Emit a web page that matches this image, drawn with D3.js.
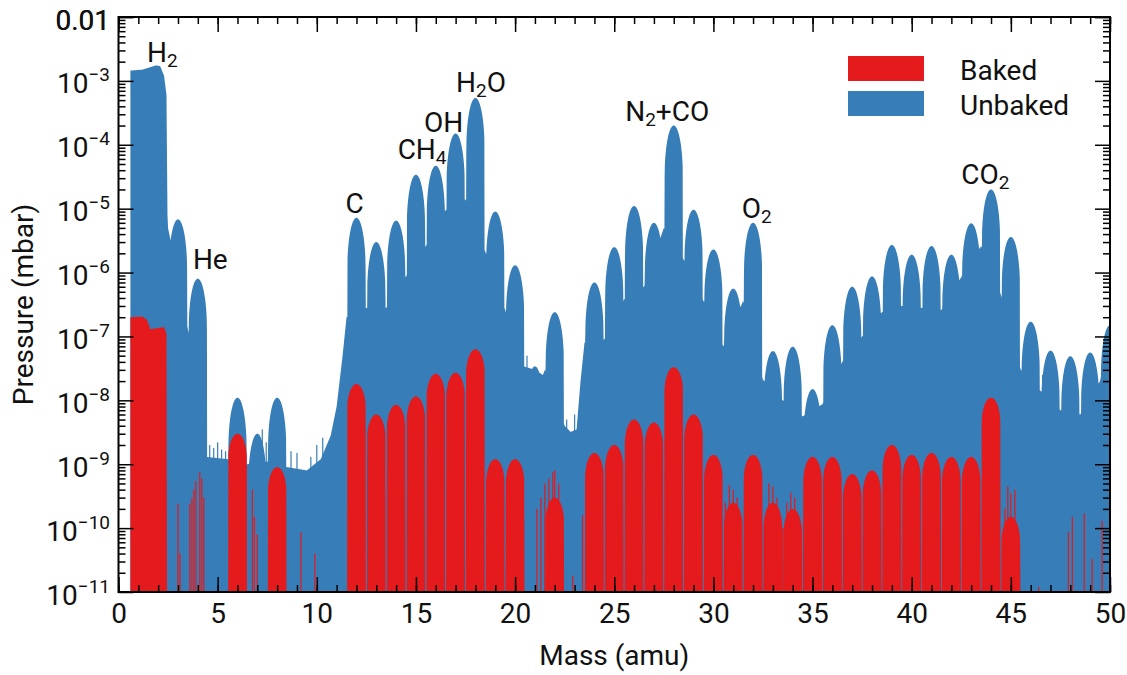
<!DOCTYPE html>
<html>
<head>
<meta charset="utf-8">
<script src="https://cdn.jsdelivr.net/npm/d3@7"></script>
<style>
  body { margin: 0; background: #fff; }
  text { font-family: Roboto, "Noto Sans", sans-serif; fill: #111; }
</style>
</head>
<body>
<svg id="chart" width="1127" height="675"></svg>
<script>
// ---- residual gas spectrum, 0–50 amu ----
// peak pressure (mbar) at each integer mass 1..50; 0 = no resolved peak
const masses = d3.range(1, 51);
const unbakedPeak = [
  0, 0, 6.8e-6, 8e-7, 0, 1.1e-8, 3e-9, 1.1e-8, 0, 0,
  0, 7.2e-6, 3.0e-6, 6.5e-6, 3.4e-5, 4.7e-5, 1.5e-4, 5.4e-4, 9e-6, 1.3e-6,
  3.4e-8, 2.4e-7, 0, 7e-7, 2.5e-6, 1.1e-5, 6e-6, 2.0e-4, 9.6e-6, 2.3e-6,
  5.6e-7, 6e-6, 5.9e-8, 6.9e-8, 1.5e-8, 1.5e-7, 6e-7, 8.7e-7, 2.7e-6, 1.9e-6,
  2.6e-6, 1.9e-6, 5.9e-6, 2.0e-5, 3.6e-6, 1.7e-7, 6e-8, 4.9e-8, 5.6e-8, 1.5e-7
];
const bakedPeak = [
  0, 0, 0, 0, 0, 3e-9, 0, 9e-10, 0, 0,
  0, 1.8e-8, 6e-9, 8.5e-9, 1.15e-8, 2.6e-8, 2.7e-8, 6.3e-8, 1.2e-9, 1.2e-9,
  0, 3e-10, 0, 1.5e-9, 2e-9, 5e-9, 4.5e-9, 3.3e-8, 6e-9, 1.4e-9,
  2.5e-10, 1.4e-9, 2.5e-10, 2e-10, 1.3e-9, 1.3e-9, 7e-10, 8e-10, 2e-9, 1.4e-9,
  1.5e-9, 1.3e-9, 1.3e-9, 1.1e-8, 1.5e-10, 0, 0, 0, 0, 0
];

// background level between peaks (mass, mbar); the merged H/H2 block is part of it
const unbakedBgMass = [0.6, 1.2, 1.9, 2.1, 2.3, 2.42, 2.47, 2.5, 3.5, 4.45, 5.5, 6.5, 7.5, 8.5, 9.5, 10.2, 10.7, 11.0, 11.3, 11.5,
  12.5, 13.5, 14.5, 15.5, 16.5, 17.5, 18.5, 19.5, 20.45, 21.0, 21.4, 21.5, 22.5, 22.8, 23.1, 23.3, 23.5,
  24.5, 25.5, 26.5, 27.5, 28.5, 29.5, 30.5, 31.5, 32.5, 33.5, 34.5, 35.5, 36.5, 37.5, 38.5, 39.5,
  40.5, 41.5, 42.5, 43.5, 44.5, 45.5, 46.5, 47.5, 48.5, 49.5, 50];
const unbakedBgValue = [1.45e-3, 1.5e-3, 1.75e-3, 1.7e-3, 1.2e-3, 6e-4, 8e-6, 5e-6, 1.3e-7, 1.3e-9, 1.2e-9, 1e-9, 1.1e-9, 9e-10, 8e-10, 1.2e-9, 2.8e-9, 8e-9, 5e-8, 2e-7,
  2.8e-7, 2.8e-7, 8.7e-7, 2.6e-6, 9.5e-6, 1.4e-5, 2.1e-6, 2.6e-7, 3.4e-8, 3e-8, 2.5e-8, 3e-8, 4e-9, 3.2e-9, 3.5e-9, 2e-8, 8e-8,
  9e-8, 3.8e-7, 6e-7, 5e-6, 1.6e-6, 3.6e-7, 7e-8, 3.6e-7, 2.1e-8, 1e-8, 5.6e-9, 8.7e-9, 4e-8, 1e-7, 2.4e-7, 3e-7,
  2.8e-7, 2.6e-7, 8.5e-7, 2.6e-6, 4.5e-7, 3e-8, 1.4e-8, 7e-9, 6e-9, 2e-8, 1.5e-7];
const bakedBgMass = [0.6, 1.2, 1.45, 1.6, 2.3, 2.42, 2.45, 50];
const bakedBgValue = [2e-7, 2.05e-7, 1.8e-7, 1.3e-7, 1.4e-7, 1.1e-7, 1e-12, 1e-12];

// isolated noise spikes (mass, mbar)
const bakedSpikeMass = [3.0, 3.1, 3.6, 3.7, 3.8, 3.9, 4.1, 4.2, 4.3, 6.75, 6.85, 7.0, 9.2, 9.9,
  21.1, 21.3, 21.5, 21.7, 21.9, 22.0, 22.2, 22.35, 22.9, 23.4,
  30.6, 30.8, 31.0, 31.2, 32.6, 32.8, 33.0, 33.2, 33.5, 33.7, 33.9, 34.1, 34.3,
  44.7, 44.85, 45.0, 45.2, 46.4, 47.9, 48.1, 48.7, 49.1, 49.6];
const bakedSpikeValue = [2.4e-10, 4e-11, 2.4e-10, 2.9e-10, 4e-10, 5.5e-10, 7.5e-10, 6e-10, 3e-10, 4e-10, 1.5e-10, 8e-11, 8.6e-11, 4e-11,
  2e-10, 3e-10, 5e-10, 6e-10, 7.5e-10, 8e-10, 5e-10, 2e-10, 1.8e-11, 1.6e-10,
  2.5e-10, 4.7e-10, 4e-10, 3e-10, 1.2e-10, 5e-10, 4.5e-10, 3e-10, 1e-10, 2.5e-10, 3.6e-10, 3e-10, 1.5e-10,
  2e-10, 4.5e-10, 3.5e-10, 4e-10, 1.2e-11, 8.6e-11, 1.5e-10, 1.7e-10, 3.3e-11, 1.3e-10];
const unbakedSpikeMass = [4.6, 4.8, 5.0, 5.2, 5.4, 7.25, 7.45, 8.7, 9.0, 9.7, 10.0, 10.3, 20.6, 22.6, 23.0, 45.7, 46.6];
const unbakedSpikeValue = [2e-9, 1.8e-9, 2.2e-9, 1.7e-9, 1.6e-9, 3.5e-9, 2.2e-9, 1.6e-9, 1.5e-9, 1.3e-9, 2e-9, 2.6e-9, 5e-8, 5e-9, 6e-9, 5e-8, 2.5e-8];

// species annotations: text (_n = subscript), mass, pressure at baseline
const annoText = ["H_2", "He", "C", "CH_4", "OH", "H_2O", "N_2+CO", "O_2", "CO_2"];
const annoMass = [2.21, 4.63, 11.91, 15.31, 16.39, 18.28, 27.67, 32.18, 43.71];
const annoP = [2.0e-3, 1.12e-6, 8.7e-6, 5.9e-5, 1.58e-4, 6.8e-4, 2.37e-4, 7.2e-6, 2.45e-5];

const seriesNames = ["Baked", "Unbaked"];
const xMajorTicks = d3.range(0, 51, 5);
const xMinorTicks = d3.range(0, 51, 1);
const yDecades = d3.range(-11, -1);

// ---- layout ----
const svg = d3.select("#chart");
const plotL = 118.5, plotR = 1110, plotT = 17, plotB = 592;
const x = d3.scaleLinear([0, 50], [plotL, plotR]);
const y = d3.scaleLog([1e-11, 1e-2], [plotB, plotT]);
const blue = "#377eb8", red = "#e41a1c";
const FLOOR = 1e-11;

// build a sampled trace: peak domes on top of the background level
function trace(peaks, bgM, bgV, halfWidth, drop) {
  const bgLog = d3.scaleLinear(bgM, bgV.map(v => Math.log10(v))).clamp(true);
  const pts = [];
  for (let i = 0; i <= 4940; i++) {
    const m = 0.6 + i * 0.01;
    let lv = bgLog(m);
    const k = Math.round(m);
    const P = peaks[k - 1];
    if (P > 0) {
      const u = Math.abs(m - k) / halfWidth;
      if (u < 1) lv = Math.max(lv, Math.log10(P) - drop * (1 - Math.sqrt(1 - u * u)));
    }
    pts.push([m, Math.max(Math.pow(10, lv), FLOOR)]);
  }
  return pts;
}

const unbaked = trace(unbakedPeak, unbakedBgMass, unbakedBgValue, 0.46, 0.8);
const baked = trace(bakedPeak, bakedBgMass, bakedBgValue, 0.47, 0.4);

svg.append("clipPath").attr("id", "plotClip")
  .append("rect").attr("x", plotL).attr("y", plotT).attr("width", plotR - plotL).attr("height", plotB - plotT);

const area = d3.area().x(d => x(d[0])).y0(y(FLOOR)).y1(d => y(d[1]));
const plot = svg.append("g").attr("clip-path", "url(#plotClip)");
function spikes(ms, vs, color) {
  plot.append("g").selectAll("rect").data(ms).join("rect")
    .attr("x", d => x(d) - 0.6).attr("width", 1.2)
    .attr("y", (d, i) => y(vs[i]))
    .attr("height", (d, i) => y(FLOOR) - y(vs[i]))
    .attr("fill", color);
}
plot.append("path").datum(unbaked).attr("d", area).attr("fill", blue);
spikes(unbakedSpikeMass, unbakedSpikeValue, blue);
plot.append("path").datum(baked).attr("d", area).attr("fill", red);
spikes(bakedSpikeMass, bakedSpikeValue, red);

// ---- axes (ticks inward on all four sides) ----
const tickStyle = g => {
  g.select(".domain").remove();
  g.selectAll(".tick line").attr("stroke", "#000").attr("stroke-width", 1.5);
};
svg.append("g").attr("transform", `translate(0,${plotB})`)
  .call(d3.axisBottom(x).tickValues(xMinorTicks).tickSize(-7).tickFormat(""))
  .call(tickStyle);
svg.append("g").attr("transform", `translate(0,${plotT})`)
  .call(d3.axisTop(x).tickValues(xMinorTicks).tickSize(-7).tickFormat(""))
  .call(tickStyle);
svg.append("g").attr("transform", `translate(0,${plotT})`)
  .call(d3.axisTop(x).tickValues(xMajorTicks).tickSize(-15).tickFormat(""))
  .call(tickStyle);
const xAxis = svg.append("g").attr("transform", `translate(0,${plotB})`)
  .call(d3.axisBottom(x).tickValues(xMajorTicks).tickSize(-15).tickPadding(11).tickFormat(d3.format("d")))
  .call(tickStyle);
xAxis.selectAll("text").attr("font-size", 28).attr("fill", "#111");

const yMinor = [];
yDecades.forEach(e => { for (let k = 2; k <= 9; k++) yMinor.push(k * Math.pow(10, e)); });
const yMajor = yDecades.map(e => Math.pow(10, e)).concat([1e-2]);
svg.append("g").attr("transform", `translate(${plotL},0)`)
  .call(d3.axisLeft(y).tickValues(yMinor).tickSize(-7).tickFormat(""))
  .call(tickStyle);
svg.append("g").attr("transform", `translate(${plotR},0)`)
  .call(d3.axisRight(y).tickValues(yMinor).tickSize(-7).tickFormat(""))
  .call(tickStyle);
svg.append("g").attr("transform", `translate(${plotR},0)`)
  .call(d3.axisRight(y).tickValues(yMajor).tickSize(-15).tickFormat(""))
  .call(tickStyle);
const yAxis = svg.append("g").attr("transform", `translate(${plotL},0)`)
  .call(d3.axisLeft(y).tickValues(yMajor).tickSize(-15).tickPadding(8.5).tickFormat(""))
  .call(tickStyle);
yAxis.selectAll(".tick text").each(function(d) {
  const t = d3.select(this).attr("font-size", 28).attr("dy", 12).attr("fill", "#111");
  const e = Math.round(Math.log10(d));
  if (e === -2) { t.text("0.01"); return; }
  t.append("tspan").text("10");
  t.append("tspan").attr("font-size", 19).attr("dy", -12).text("\u2212" + (-e));
});

// frame
svg.append("rect").attr("x", plotL).attr("y", plotT).attr("width", plotR - plotL).attr("height", plotB - plotT)
  .attr("fill", "none").attr("stroke", "#000").attr("stroke-width", 2);

// axis titles
svg.append("text").attr("x", (plotL + plotR) / 2).attr("y", 665).attr("text-anchor", "middle")
  .attr("font-size", 28).text("Mass (amu)");
svg.append("text").attr("transform", `translate(33,${(plotT + plotB) / 2}) rotate(-90)`)
  .attr("text-anchor", "middle").attr("font-size", 28).text("Pressure (mbar)");

// species labels
annoText.forEach((s, i) => {
  const t = svg.append("text").attr("x", x(annoMass[i])).attr("y", y(annoP[i]))
    .attr("text-anchor", "middle").attr("font-size", 28);
  const parts = s.split(/(_\d)/).filter(p => p.length);
  let shifted = 0;
  parts.forEach(p => {
    if (p[0] === "_") {
      t.append("tspan").attr("font-size", 19).attr("dy", 5 - shifted).text(p.slice(1));
      shifted = 5;
    } else {
      t.append("tspan").attr("dy", -shifted).text(p);
      shifted = 0;
    }
  });
});

// legend
const legend = svg.append("g").attr("transform", "translate(848,56)");
[red, blue].forEach((c, i) => {
  legend.append("rect").attr("x", 0).attr("y", i * 35).attr("width", 76).attr("height", 25).attr("fill", c);
  legend.append("text").attr("x", 112).attr("y", i * 35 + 24).attr("font-size", 28).text(seriesNames[i]);
});
</script>
</body>
</html>
